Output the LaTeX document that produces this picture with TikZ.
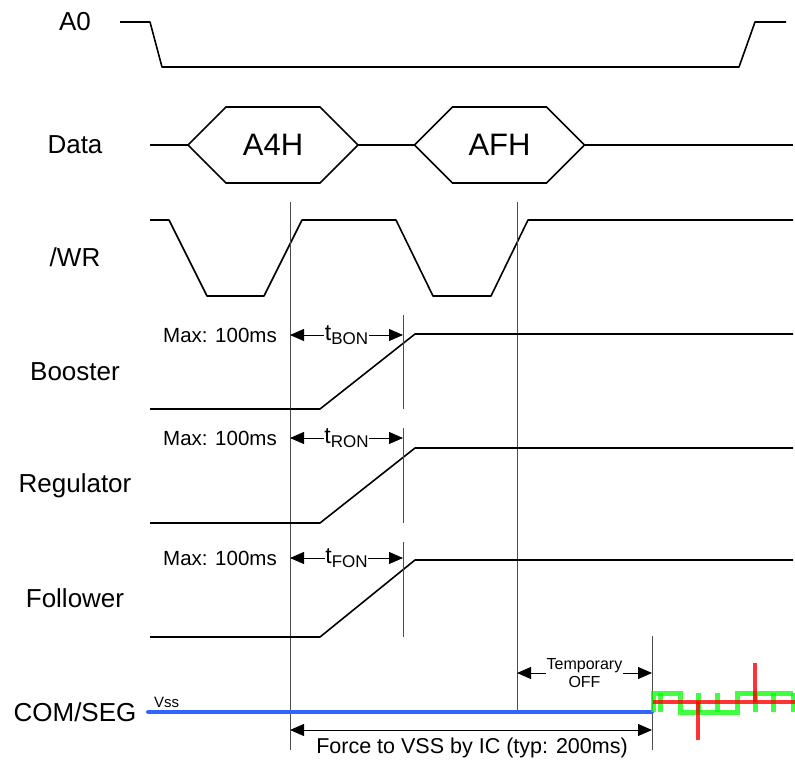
\documentclass[tikz,border=0pt]{standalone}
\usepackage{fontspec}
\setmainfont{Liberation Sans}
\usetikzlibrary{arrows.meta,shapes.symbols}

\definecolor{vssblue}{RGB}{51,102,255}

\begin{document}
\begin{tikzpicture}[x=1pt,y=-1pt,>={Triangle[length=14pt,width=12pt]},
  wave/.style={line width=1.6pt,line join=round},
  marker/.style={line width=0.9pt,draw=black!70},
  dim/.style={<->,line width=0.8pt},
  name node/.style={font=\fontsize{26}{28}\selectfont},
  small node/.style={font=\fontsize{20.5}{22}\selectfont},
  hex node/.style={signal,signal to=east and west,signal pointer angle=90,draw,line width=1.6pt,
    minimum width=170pt,minimum height=76pt,inner sep=0pt,outer sep=0pt,font=\fontsize{31}{33}\selectfont},
  noise g/.style={draw=green,opacity=0.75,line width=5pt},
  noise r/.style={draw=red,opacity=0.8,line width=3.5pt}]

    \useasboundingbox (0,0) rectangle (795,765);

    % signal names
    \node[name node] (a0)  at (75,22)  {A0};
    \node[name node] (dat) at (75,145) {Data};
    \node[name node] (wr)  at (75,257) {/WR};
    \node[name node] (com) at (75,712) {COM/SEG};

    % A0
    \draw[wave] (120,22) -- (150,22) -- (162,67) -- (739,67) -- (755,22) -- (786,22);

    % Data
    \node[hex node] (h1) at (273,145) {A4H};
    \node[hex node] (h2) at (499.5,145) {AFH};
    \coordinate (d0) at (150,145);
    \coordinate (d3) at (793,145);
    \draw[wave] (d0) -- (h1.west);
    \draw[wave] (h1.east) -- (h2.west);
    \draw[wave] (h2.east) -- (d3);

    % /WR
    \draw[wave] (150,220) -- (169,220) -- (207,296) -- (264,296) -- (302,220) -- (396,220)
        -- (433,296) -- (491,296) -- (528,220) -- (793,220);

    % markers
    \coordinate (m1) at (290,202);
    \coordinate (m2) at (517,202);
    \coordinate (m3) at (652,636);
    \draw[marker] (m1) -- (290,750);
    \draw[marker] (m2) -- (517,710);
    \draw[marker] (m3) -- (652,750);

    % power up
    \foreach \lab/\sub/\hi/\lo/\ar/\tp in {Booster/BON/334/409/335/315,
        Regulator/RON/448/523/438/428, Follower/FON/560/637/558/542}{
      \node[name node] at (75,{(\hi+\lo)/2}) {\lab};
      \draw[wave] (150,\lo) -- (320,\lo) -- (415,\hi) -- (793,\hi);
      \draw[marker] (403,\tp) -- (403,\lo);
      \node[small node] at (220,\ar) {Max: 100ms};
      \coordinate (s) at (290,\ar);
      \coordinate (e) at (403,\ar);
      \draw[dim] (s) -- node[fill=white,inner sep=0.5pt,font=\fontsize{23}{24}\selectfont]
        {t\raisebox{-4.5pt}{\fontsize{17}{18}\selectfont\sub}} (e);
    }

    % COM/SEG
    \coordinate (v0) at (148,712);
    \coordinate (v1) at (652,712);
    \draw[line width=4pt,vssblue,line cap=round] (v0) -- (v1);
    \node[anchor=west,inner sep=0pt,font=\fontsize{15}{16}\selectfont] (vss) at (154,702) {Vss};

    \draw[noise g]
        (653,712) -- (653,693) -- (680,693) -- (680,712) -- (737,712) -- (737,693) -- (793,693);
    \foreach \x in {660,755,773,793}
      \draw[noise g] (\x,693) -- (\x,712);
    \foreach \x in {698,717}
      \draw[noise g] (\x,712) -- (\x,693);
    \draw[noise r] (653,702) -- (795,702);
    \draw[noise r] (698,702) -- (698,740);
    \draw[noise r] (755,702) -- (755,663);

    % timing
    \coordinate (o1) at (517,673);
    \coordinate (o2) at (652,673);
    \draw[dim] (o1) -- node[fill=white,inner sep=1pt,align=center,font=\fontsize{16}{18}\selectfont]
        {Temporary\\OFF} (o2);

    \coordinate (f1) at (290,730);
    \coordinate (f2) at (652,730);
    \draw[dim] (f1) -- (f2);
    \node[font=\fontsize{21.5}{23}\selectfont] (frc) at (472,748) {Force to VSS by IC (typ: 200ms)};

\end{tikzpicture}
\end{document}
